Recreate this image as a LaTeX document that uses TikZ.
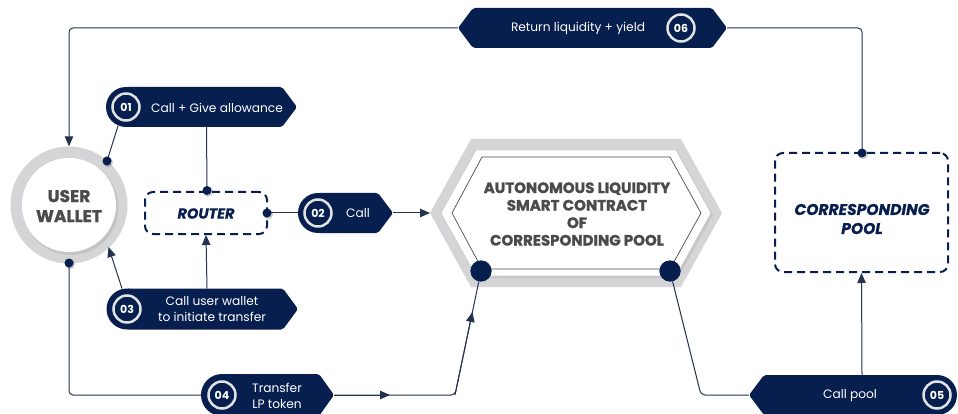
\documentclass[tikz,border=0pt]{standalone}
\usepackage{fontspec}
\setmainfont{Poppins}
\usetikzlibrary{arrows.meta,calc}
\definecolor{navy}{HTML}{061F4E}
\definecolor{ringgray}{HTML}{D5D5D7}
\definecolor{txtgray}{HTML}{4B4B4D}
\definecolor{linec}{HTML}{24334F}
\definecolor{numring}{HTML}{E2E2E2}
\tikzset{
  conn/.style={draw=linec, line width=1pt, rounded corners=4pt},
  arr/.style={-{Triangle[length=10pt,width=8.5pt]}},
  dotsm/.style={circle, fill=navy, inner sep=0pt, minimum size=9pt},
  dotbig/.style={circle, fill=navy, inner sep=0pt, minimum size=21pt},
  numc/.style={circle, draw=numring, line width=2.5pt, fill=navy, minimum size=27pt, inner sep=0pt, text=white, font=\bfseries\fontsize{11}{11}\selectfont},
  btext/.style={text=white, font=\fontsize{12.2}{16}\selectfont, align=center, inner sep=0pt},
  dashbox/.style={draw=navy, line width=2pt, dash pattern=on 8pt off 5pt, rounded corners=8pt},
  dashtext/.style={text=navy, font=\bfseries\itshape\fontsize{14.5}{19}\selectfont\addfontfeatures{FakeBold=0.6}, align=center, inner sep=0pt},
  bannerfill/.style={fill=navy, rounded corners=2pt}
}
\begin{document}
\begin{tikzpicture}[x=1pt,y=-1pt]
\useasboundingbox (0,0) rectangle (958,414);
\clip (0,0) rectangle (958,414);

% ---------- user wallet ----------
\fill[ringgray] (69,205) circle (58.5);
\fill[black!35, opacity=0.35] (71,207.5) circle (47.5);
\fill[white] (69,205) circle (47);
\node[circle, minimum size=117pt, inner sep=0pt] (wallet) at (69,205) {};
\node[text=txtgray, font=\bfseries\fontsize{17}{20}\selectfont\addfontfeatures{FakeBold=1.2}, align=center] (wtext) at (69,206) {USER\\WALLET};

% ---------- router ----------
\node[dashbox, minimum width=122pt, minimum height=42pt] (router) at (206,213) {};
\node[dashtext] (rtext) at (206,213.5) {ROUTER};

% ---------- corresponding pool ----------
\node[dashbox, minimum width=173pt, minimum height=119pt] (pool) at (861.5,212.5) {};
\node[dashtext, font=\bfseries\itshape\fontsize{15.5}{19}\selectfont\addfontfeatures{FakeBold=0.6}] (ptext) at (862,219) {CORRESPONDING\\POOL};

% ---------- hexagon ----------
\fill[ringgray] (430,213) -- (471,139) -- (681,139) -- (722,213) -- (681,287) -- (471,287) -- cycle;
\fill[black!40, opacity=0.25] (443,215) -- (478,152) -- (678,152) -- (713,215) -- (678,278) -- (478,278) -- cycle;
\filldraw[fill=white, draw=black!20, line width=0.6pt] (441,213) -- (476,150) -- (676,150) -- (711,213) -- (676,276) -- (476,276) -- cycle;
\draw[black!70, line width=0.7pt] (452,213) -- (482,157) -- (670,157) -- (701,213) -- (670,269) -- (482,269) -- cycle;
\node[text=txtgray, font=\bfseries\fontsize{15}{17.5}\selectfont\addfontfeatures{FakeBold=1.2}, align=center] (hex) at (577,214) {AUTONOMOUS LIQUIDITY\\SMART CONTRACT\\OF\\CORRESPONDING POOL};
\coordinate (hexL) at (430,213);
\node[dotbig] (hdotL) at (481,271) {};
\node[dotbig] (hdotR) at (670,271) {};

% ---------- banner 06 ----------
\fill[bannerfill] (458,28) -- (473,8) -- (712,8) -- (727,28) -- (712,48) -- (473,48) -- cycle;
\node[btext] (t06) at (578,28.5) {Return liquidity + yield};
\node[numc] (n06) at (681,28) {06};
\coordinate (b6L) at (458,28);
\coordinate (b6R) at (727,28);

% ---------- banner 01 ----------
\fill[navy] (126,107) circle (20);
\fill[bannerfill] (126,87) -- (282,87) -- (297,107) -- (282,127) -- (126,127) -- cycle;
\node[btext] (t01) at (217,107.5) {Call + Give allowance};
\node[numc] (n01) at (126,107) {01};
\coordinate (b1a) at (118,126);
\coordinate (b1b) at (206.5,127);

% ---------- banner 02 ----------
\fill[navy] (318,213) circle (20);
\fill[bannerfill] (318,193) -- (378,193) -- (393,213) -- (378,233) -- (318,233) -- cycle;
\node[btext] (t02) at (358,213.5) {Call};
\node[numc] (n02) at (318,213) {02};
\coordinate (b2L) at (298,213);
\coordinate (b2R) at (393,213);

% ---------- banner 03 ----------
\fill[navy] (127,309) circle (20.5);
\fill[bannerfill] (127,288.5) -- (283,288.5) -- (298,309) -- (283,329.5) -- (127,329.5) -- cycle;
\node[btext] (t03) at (212,309.5) {Call user wallet\\to initiate transfer};
\node[numc] (n03) at (127,309) {03};
\coordinate (b3a) at (122,288.5);
\coordinate (b3b) at (207,288.5);

% ---------- banner 04 ----------
\fill[navy] (222,395) circle (21);
\fill[bannerfill] (222,374) -- (319,374) -- (334,395) -- (319,416) -- (222,416) -- cycle;
\node[btext] (t04) at (277,395.5) {Transfer\\LP token};
\node[numc] (n04) at (222,395) {04};
\coordinate (b4L) at (202,395);
\coordinate (b4R) at (334,395);

% ---------- banner 05 ----------
\fill[navy] (937,395) circle (20);
\fill[bannerfill] (937,375) -- (764,375) -- (749,395) -- (764,415) -- (937,415) -- cycle;
\node[btext] (t05) at (850,395.5) {Call pool};
\node[numc] (n05) at (937,395) {05};
\coordinate (b5L) at (749,395);
\coordinate (b5T) at (862,375);

% ---------- small dots ----------
\coordinate (wdot1) at (107,161);
\coordinate (wdot2) at (69,263);
\coordinate (warr) at (108.5,247);
\coordinate (rtop) at (207,190.5);
\coordinate (rright) at (267,213);
\coordinate (ptop) at (862,153);

% ---------- connectors ----------
\draw[conn, arr] (b6L) -| (wallet.north);
\draw[conn] (b6R) -| (ptop);
\draw[conn] (b1a) -- (wdot1);
\draw[conn] (b1b) -- (rtop);
\draw[conn] (rright) -- (b2L);
\draw[conn, arr] (b2R) -- (hexL);
\draw[conn, arr] (b3a) -- (warr);
\draw[conn, arr] (b3b) -- (router.south);
\draw[conn] (wdot2) |- (b4L);
\coordinate (j1) at (455,395);
\draw[conn] (b4R) -- (j1) -- (hdotL);
\draw[conn, arr] (b4R) -- (390,395);
\draw[conn, arr] (j1) -- ($(j1)!0.67!(hdotL)$);
\coordinate (k1) at (701,395);
\draw[conn] (hdotR) -- (k1) -- (b5L);
\draw[conn, arr] (b5T) -- (pool.south);

% dots on top
\foreach \p in {wdot1,wdot2,rtop,rright,ptop}{
  \fill[black, opacity=0.2] ($(\p)+(1,1.2)$) circle (5);
  \node[dotsm] at (\p) {};
}
\node[dotbig] at (hdotL) {};
\node[dotbig] at (hdotR) {};
\end{tikzpicture}
\end{document}
